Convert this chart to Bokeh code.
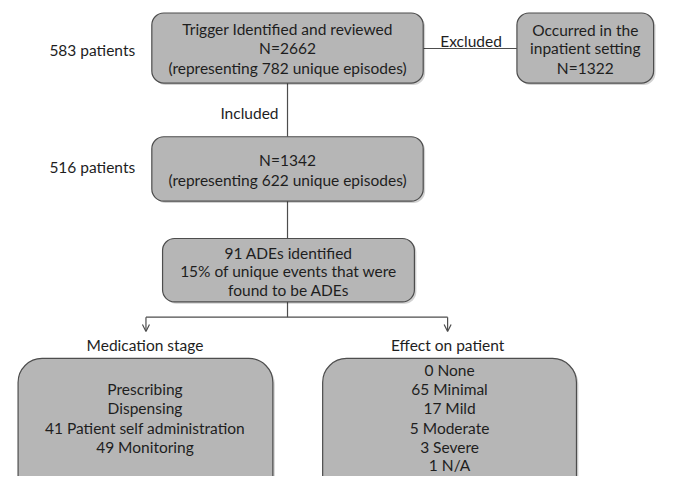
from bokeh.plotting import figure
from bokeh.models import Range1d, Arrow, OpenHead
from bokeh.core.properties import value
from bokeh.embed import file_html
from bokeh.resources import INLINE

# ---- data (texts of the flowchart) ----
box1_lines = ["Trigger Identified and reviewed", "N=2662", "(representing 782 unique episodes)"]
box2_lines = ["Occurred in the", "inpatient setting", "N=1322"]
box3_lines = ["N=1342", "(representing 622 unique episodes)"]
box4_lines = ["91 ADEs identified", "15% of unique events that were", "found to be ADEs"]
stage_lines = ["Prescribing", "Dispensing", "41 Patient self administration", "49 Monitoring"]
effect_lines = ["0 None", "65 Minimal", "17 Mild", "5 Moderate", "3 Severe", "1 N/A"]
patient_labels = ["583 patients", "516 patients"]
edge_labels = ["Excluded", "Included"]
branch_labels = ["Medication stage", "Effect on patient"]

FONT = "Lato"
FILL = "#b6b6b6"
EDGE = "#4d4d4d"
TXT = "#1e1e1e"
FS = "15.5px"

p = figure(width=657, height=476, output_backend="svg", toolbar_location=None,
           x_range=Range1d(0, 673), y_range=Range1d(496, 0), min_border=0)
p.axis.visible = False
p.grid.visible = False
p.outline_line_color = None
p.background_fill_color = "white"


def box(l, r, t, b, radius):
    # soft shadow
    p.quad(left=l + 2, right=r + 2, top=t + 2, bottom=b + 2, border_radius=radius,
           fill_color="#000000", fill_alpha=0.18, line_color=None)
    p.quad(left=l, right=r, top=t, bottom=b, border_radius=radius,
           fill_color=FILL, line_color=EDGE, line_width=1.2)


def lines_text(xc, ys, texts, size=FS):
    p.text(x=[xc] * len(texts), y=ys, text=texts, text_align="center",
           text_baseline="middle", text_font=value(FONT), text_font_size=size,
           text_color=TXT)


def seg(x0, y0, x1, y1):
    p.segment(x0=[x0], y0=[y0], x1=[x1], y1=[y1], line_color=EDGE, line_width=1.2)


# connectors
seg(294, 86, 294, 142)
seg(433, 50, 529, 50)
seg(294, 209, 294, 248)
seg(294, 314, 294, 330)
seg(149, 330, 458, 330)
for xa in (149, 458):
    p.add_layout(Arrow(end=OpenHead(size=7, line_color=EDGE, line_width=1.2),
                       x_start=xa, y_start=330, x_end=xa, y_end=345,
                       line_color=EDGE, line_width=1.2))

# boxes
box(155, 433, 13, 86, 12)
box(529, 669, 13, 86, 12)
box(155, 433, 142, 209, 12)
box(166, 424, 248, 314, 12)
box(18, 279, 373, 530, 24)
box(330, 590, 373, 530, 24)

# box texts
lines_text(294, [30, 50, 70], box1_lines)
lines_text(599, [31, 50, 70], box2_lines)
lines_text(294, [166, 187], box3_lines)
lines_text(295, [263, 282, 302], box4_lines)
lines_text(148, [405, 425, 445, 465], stage_lines)
lines_text(460, [385, 405, 425, 445, 465, 484], effect_lines)

# side / edge / branch labels
p.text(x=[94, 94], y=[52, 173], text=patient_labels, text_align="center",
       text_baseline="middle", text_font=value(FONT), text_font_size=FS, text_color=TXT)
p.text(x=[482, 255], y=[42, 117], text=edge_labels, text_align="center",
       text_baseline="middle", text_font=value(FONT), text_font_size=FS, text_color=TXT)
p.text(x=[148, 458], y=[359, 359], text=branch_labels, text_align="center",
       text_baseline="middle", text_font=value(FONT), text_font_size=FS, text_color=TXT)

open("out.html", "w").write(file_html(p, INLINE))
